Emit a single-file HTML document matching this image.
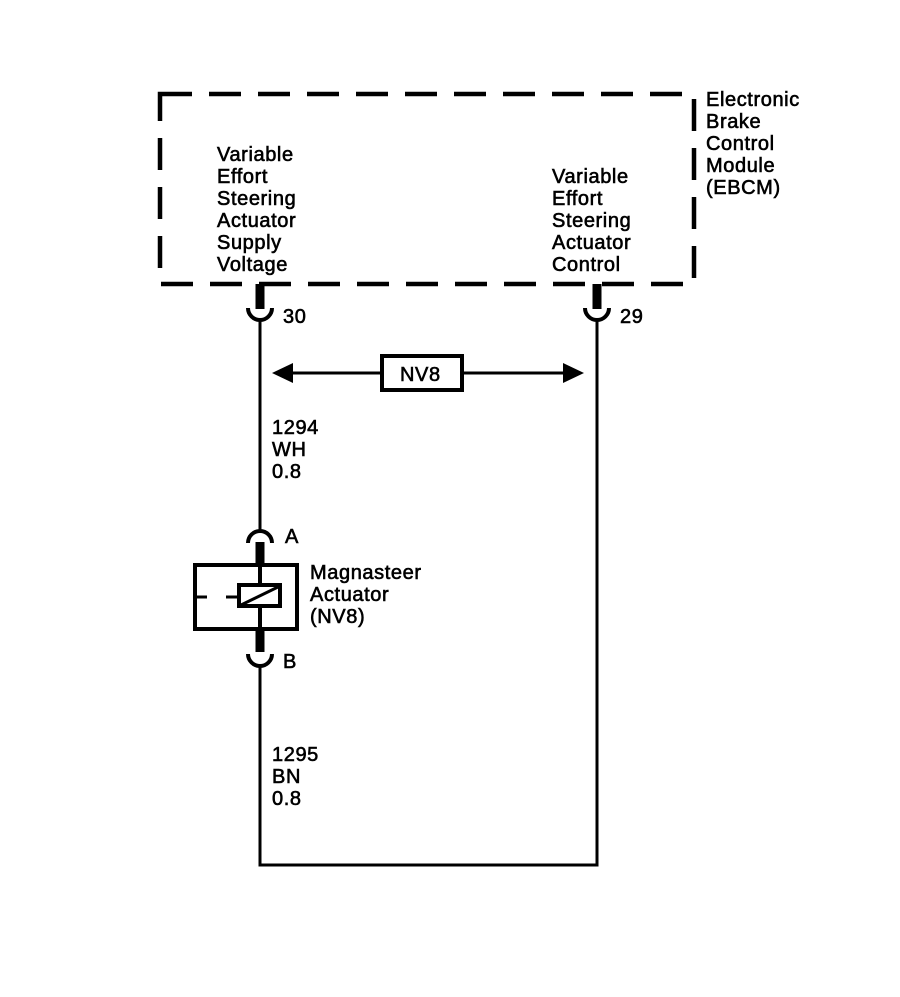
<!DOCTYPE html>
<html><head><style>
body{margin:0;background:#fff;width:900px;height:992px;overflow:hidden}
svg text{font-family:"Liberation Sans",Arial,sans-serif;font-size:20px;fill:#000;stroke:#000;stroke-width:0.6px;letter-spacing:0.6px}
</style></head><body>
<svg width="900" height="992" viewBox="0 0 900 992" xmlns="http://www.w3.org/2000/svg">
<rect x="160" y="94" width="534" height="190" fill="none" stroke="#000" stroke-width="4.5" stroke-dasharray="32 17"/>
<g>
<text x="217" y="161">Variable</text><text x="217" y="183">Effort</text><text x="217" y="205">Steering</text><text x="217" y="227">Actuator</text><text x="217" y="249">Supply</text><text x="217" y="271">Voltage</text>
<text x="552" y="183">Variable</text><text x="552" y="205">Effort</text><text x="552" y="227">Steering</text><text x="552" y="249">Actuator</text><text x="552" y="271">Control</text>
<text x="706" y="106">Electronic</text><text x="706" y="128">Brake</text><text x="706" y="150">Control</text><text x="706" y="172">Module</text><text x="706" y="194">(EBCM)</text>
<text x="283" y="323">30</text><text x="620" y="323">29</text>
<text x="272" y="434">1294</text><text x="272" y="456">WH</text><text x="272" y="478">0.8</text>
<text x="285" y="543">A</text><text x="283" y="668">B</text>
<text x="310" y="579">Magnasteer</text><text x="310" y="601">Actuator</text><text x="310" y="623">(NV8)</text>
<text x="272" y="761">1295</text><text x="272" y="783">BN</text><text x="272" y="805">0.8</text>
</g>
<g stroke="#000" fill="none">
<line x1="260" y1="284" x2="260" y2="309" stroke-width="9"/>
<line x1="597" y1="284" x2="597" y2="309" stroke-width="9"/>
<path d="M248 308 A12 12 0 0 0 272 308" stroke-width="4"/>
<path d="M585 308 A12 12 0 0 0 609 308" stroke-width="4"/>
<line x1="260" y1="320" x2="260" y2="531" stroke-width="3"/>
<line x1="597" y1="320" x2="597" y2="866" stroke-width="3"/>
<line x1="260" y1="667" x2="260" y2="866" stroke-width="3"/>
<line x1="258.5" y1="865" x2="598.5" y2="865" stroke-width="3"/>
<path d="M248 543 A12 12 0 0 1 272 543" stroke-width="4"/>
<line x1="260" y1="542" x2="260" y2="563" stroke-width="9"/>
<line x1="260" y1="631" x2="260" y2="652" stroke-width="9"/>
<path d="M248 654 A12 12 0 0 0 272 654" stroke-width="4"/>
<rect x="195" y="565" width="102" height="64" stroke-width="4"/>
<line x1="260" y1="563" x2="260" y2="583" stroke-width="4"/>
<line x1="260" y1="608" x2="260" y2="631" stroke-width="4"/>
<rect x="239" y="585" width="41" height="21" stroke-width="4"/>
<line x1="241" y1="605" x2="278" y2="587" stroke-width="3"/>
<line x1="195" y1="597" x2="207" y2="597" stroke-width="3"/>
<line x1="226" y1="597" x2="239" y2="597" stroke-width="3"/>
<line x1="285" y1="373" x2="381" y2="373" stroke-width="3"/>
<line x1="463" y1="373" x2="570" y2="373" stroke-width="3"/>
<rect x="382" y="356" width="80" height="34" stroke-width="4"/>
</g>
<polygon points="272,373 293,363 293,383" fill="#000"/>
<polygon points="584,373 563,363 563,383" fill="#000"/>
<text x="400" y="381">NV8</text>
</svg>
</body></html>
